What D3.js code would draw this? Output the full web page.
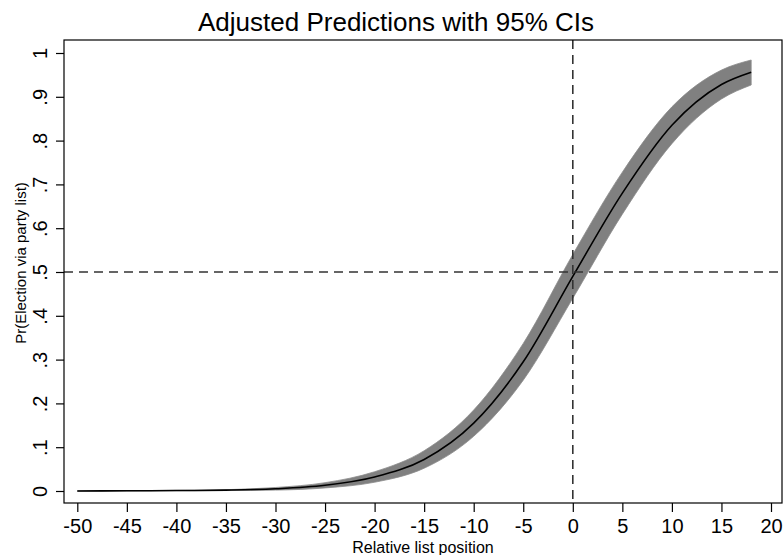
<!DOCTYPE html>
<html>
<head>
<meta charset="utf-8">
<script src="https://cdn.jsdelivr.net/npm/d3@7"></script>
<style>
  body { margin: 0; background: #fff; }
  text { font-family: "Liberation Sans", Arial, sans-serif; fill: #000; }
</style>
</head>
<body>
<div id="chart"></div>
<script>
// relative list position and predicted probability with 95% CI
const positions = [-50, -45, -40, -35, -30, -25, -20, -15, -10, -5, 0, 5, 10, 15, 18];
const predicted = [0.000, 0.0005, 0.001, 0.002, 0.005, 0.013, 0.032, 0.072, 0.155, 0.295, 0.49, 0.68, 0.835, 0.928, 0.956];
const lowerCI   = [0.000, 0.0003, 0.0006, 0.001, 0.002, 0.007, 0.020, 0.052, 0.125, 0.253, 0.44, 0.632, 0.793, 0.895, 0.927];
const upperCI   = [0.000, 0.0007, 0.0014, 0.003, 0.008, 0.019, 0.044, 0.092, 0.185, 0.337, 0.54, 0.728, 0.877, 0.961, 0.984];

const xTicks = d3.range(-50, 21, 5);
const yTicks = [0, 0.1, 0.2, 0.3, 0.4, 0.5, 0.6, 0.7, 0.8, 0.9, 1];

const W = 784, H = 555;
const box = { left: 64, right: 782, top: 40, bottom: 503 };

const svg = d3.select("#chart").append("svg")
  .attr("width", W).attr("height", H);

const x = d3.scaleLinear().domain([-50, 20]).range([77.3, 771]);
const y = d3.scaleLinear().domain([0, 1]).range([491, 53]);

const data = positions.map((p, i) => ({ x: p, y: predicted[i], lo: lowerCI[i], hi: upperCI[i] }));

// CI band
svg.append("path")
  .datum(data)
  .attr("fill", "#808080")
  .attr("stroke", "#8c8c8c")
  .attr("stroke-width", 0.8)
  .attr("d", d3.area().curve(d3.curveMonotoneX)
    .x(d => x(d.x)).y0(d => y(d.lo)).y1(d => y(d.hi)));

// prediction line
svg.append("path")
  .datum(data)
  .attr("fill", "none")
  .attr("stroke", "#000")
  .attr("stroke-width", 1.6)
  .attr("d", d3.line().curve(d3.curveMonotoneX).x(d => x(d.x)).y(d => y(d.y)));

// reference lines
svg.append("line")
  .attr("x1", box.left).attr("x2", box.right)
  .attr("y1", y(0.5)).attr("y2", y(0.5))
  .attr("stroke", "#333").attr("stroke-width", 1.6)
  .attr("stroke-dasharray", "9,6");

svg.append("line")
  .attr("x1", x(0)).attr("x2", x(0))
  .attr("y1", box.top).attr("y2", box.bottom)
  .attr("stroke", "#333").attr("stroke-width", 1.6)
  .attr("stroke-dasharray", "9,6");

// plot frame
svg.append("rect")
  .attr("x", box.left).attr("y", box.top)
  .attr("width", box.right - box.left).attr("height", box.bottom - box.top)
  .attr("fill", "none").attr("stroke", "#000").attr("stroke-width", 1.2);

// x axis
const xAxis = svg.append("g")
  .attr("transform", `translate(0,${box.bottom})`)
  .call(d3.axisBottom(x).tickValues(xTicks).tickSize(9).tickPadding(7).tickFormat(d3.format("d")));
xAxis.select(".domain").remove();
xAxis.selectAll("line").attr("stroke", "#000").attr("stroke-width", 1.2);
xAxis.selectAll("text")
  .attr("font-size", null).attr("font-family", null)
  .style("font-size", "20px")
  .text(d => d < 0 ? "-" + Math.abs(d) : d);

// y axis
const yAxis = svg.append("g")
  .attr("transform", `translate(${box.left},0)`)
  .call(d3.axisLeft(y).tickValues(yTicks).tickSize(8).tickPadding(0)
    .tickFormat(d => d === 0 ? "0" : d === 1 ? "1" : d3.format(".1f")(d).replace(/^0/, "")));
yAxis.select(".domain").remove();
yAxis.selectAll("line").attr("stroke", "#000").attr("stroke-width", 1.2);
yAxis.selectAll("text")
  .attr("x", null).attr("dy", null)
  .attr("text-anchor", "middle")
  .attr("transform", "translate(-17,0) rotate(-90)")
  .attr("y", 0)
  .style("font-size", "20px");

// titles
svg.append("text")
  .attr("x", 396).attr("y", 31)
  .attr("text-anchor", "middle")
  .style("font-size", "26px")
  .text("Adjusted Predictions with 95% CIs");

svg.append("text")
  .attr("x", (box.left + box.right) / 2).attr("y", 553)
  .attr("text-anchor", "middle")
  .style("font-size", "16px")
  .text("Relative list position");

svg.append("text")
  .attr("transform", "translate(26,263) rotate(-90)")
  .attr("text-anchor", "middle")
  .style("font-size", "15px")
  .text("Pr(Election via party list)");
</script>
</body>
</html>
